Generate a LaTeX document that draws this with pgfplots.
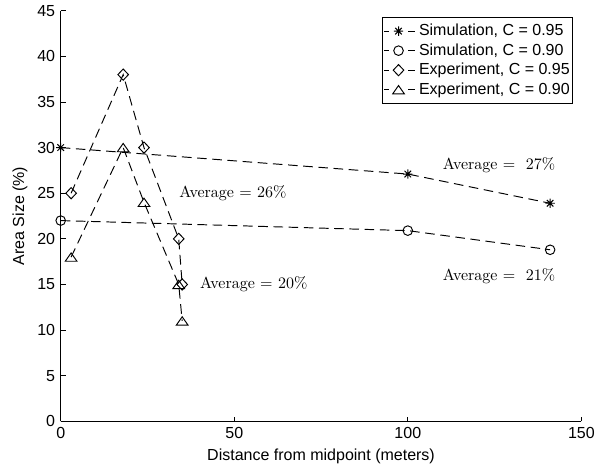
\documentclass[border=0pt]{standalone}
\usepackage{fontspec}
\newfontfamily\arial{Liberation Sans}
\usepackage{pgfplots}
\pgfplotsset{compat=1.18}
\pgfdeclareplotmark{mstar}{%
  \pgfpathmoveto{\pgfqpoint{-2.9pt}{0pt}}\pgfpathlineto{\pgfqpoint{2.9pt}{0pt}}%
  \pgfpathmoveto{\pgfqpoint{0pt}{-2.9pt}}\pgfpathlineto{\pgfqpoint{0pt}{2.9pt}}%
  \pgfpathmoveto{\pgfqpoint{-2.05pt}{-2.05pt}}\pgfpathlineto{\pgfqpoint{2.05pt}{2.05pt}}%
  \pgfpathmoveto{\pgfqpoint{-2.05pt}{2.05pt}}\pgfpathlineto{\pgfqpoint{2.05pt}{-2.05pt}}%
  \pgfusepathqstroke}
\pgfdeclareplotmark{mdiamond}{%
  \pgfpathmoveto{\pgfqpoint{0pt}{3.5pt}}\pgfpathlineto{\pgfqpoint{3.3pt}{0pt}}%
  \pgfpathlineto{\pgfqpoint{0pt}{-3.5pt}}\pgfpathlineto{\pgfqpoint{-3.3pt}{0pt}}%
  \pgfpathclose\pgfusepathqstroke}
\pgfdeclareplotmark{mtri}{%
  \pgfpathmoveto{\pgfqpoint{0pt}{2.6pt}}\pgfpathlineto{\pgfqpoint{3.65pt}{-2.6pt}}%
  \pgfpathlineto{\pgfqpoint{-3.65pt}{-2.6pt}}\pgfpathclose\pgfusepathqstroke}
\begin{document}
\begin{tikzpicture}
\begin{axis}[name=ax, at={(0,0)}, anchor=south west,
  scale only axis, width=325.4pt, height=256.6pt,
  xmin=0, xmax=150, ymin=0, ymax=45,
  xtick={0,50,100,150}, ytick={0,5,...,45},
  axis lines=left, axis line style={-, line width=0.5pt},
  tick align=inside, major tick length=3pt,
  tick style={line width=0.5pt, black},
  ticklabel style={font=\arial},
  /pgf/number format/assume math mode=true,
  xlabel={Distance from midpoint (meters)},
  ylabel={Area Size (\%)},
  label style={font=\arial},
  x label style={at={(axis description cs:0.5,-0.0845)}, anchor=center},
  y label style={at={(axis description cs:-0.078,0.5)}, anchor=center},
  every axis plot/.append style={black, line width=0.6pt, dash pattern=on 6pt off 3.5pt, mark options={solid}},
  clip=false,
  legend cell align=left,
  legend image code/.code={%
    \draw[#1, solid] (-9pt,0pt) -- (-6.2pt,0pt);
    \draw[#1, only marks] plot coordinates {(0pt,0pt)};
    \draw[#1, solid] (6.2pt,0pt) -- (10pt,0pt);
    \path (11.4pt,0pt);
  },
  legend style={at={(1,1)}, anchor=north east, xshift=-5.4pt, yshift=-4.1pt,
    draw=black, line width=0.5pt, fill=white, font=\arial,
    inner xsep=0.5pt, inner ysep=2.3pt, row sep=0pt,
    nodes={inner xsep=1.1pt, inner ysep=1.35pt, text height=7.5pt, text depth=2pt}},
]
\addplot[mark=mstar] coordinates {(0,30) (100,27.1) (141,23.9)};
\addlegendentry{Simulation, C = 0.95}
\addplot[mark=o, mark size=3pt] coordinates {(0,22) (100,20.9) (141,18.8)};
\addlegendentry{Simulation, C = 0.90}
\addplot[mark=mdiamond] coordinates {(3,25) (18,38) (24,30) (34,20) (35,15)};
\addlegendentry{Experiment, C = 0.95}
\addplot[mark=mtri] coordinates {(3,18) (18,30) (24,24) (34,15) (35,11)};
\addlegendentry{Experiment, C = 0.90}
\node[anchor=west, inner sep=0pt] at (axis cs:34.1,25) {Average = 26\%};
\node[anchor=west, inner sep=0pt] at (axis cs:40.1,15) {Average = 20\%};
\node[anchor=west, inner sep=0pt] at (axis cs:110,28.1) {Average =\ \ 27\%};
\node[anchor=west, inner sep=0pt] at (axis cs:110,15.9) {Average =\ \ 21\%};
\end{axis}
\pgfresetboundingbox
\path (ax.south west) ++(-37.94pt,-29.19pt) rectangle ++(378.75pt,292.5pt);
\end{tikzpicture}
\end{document}
